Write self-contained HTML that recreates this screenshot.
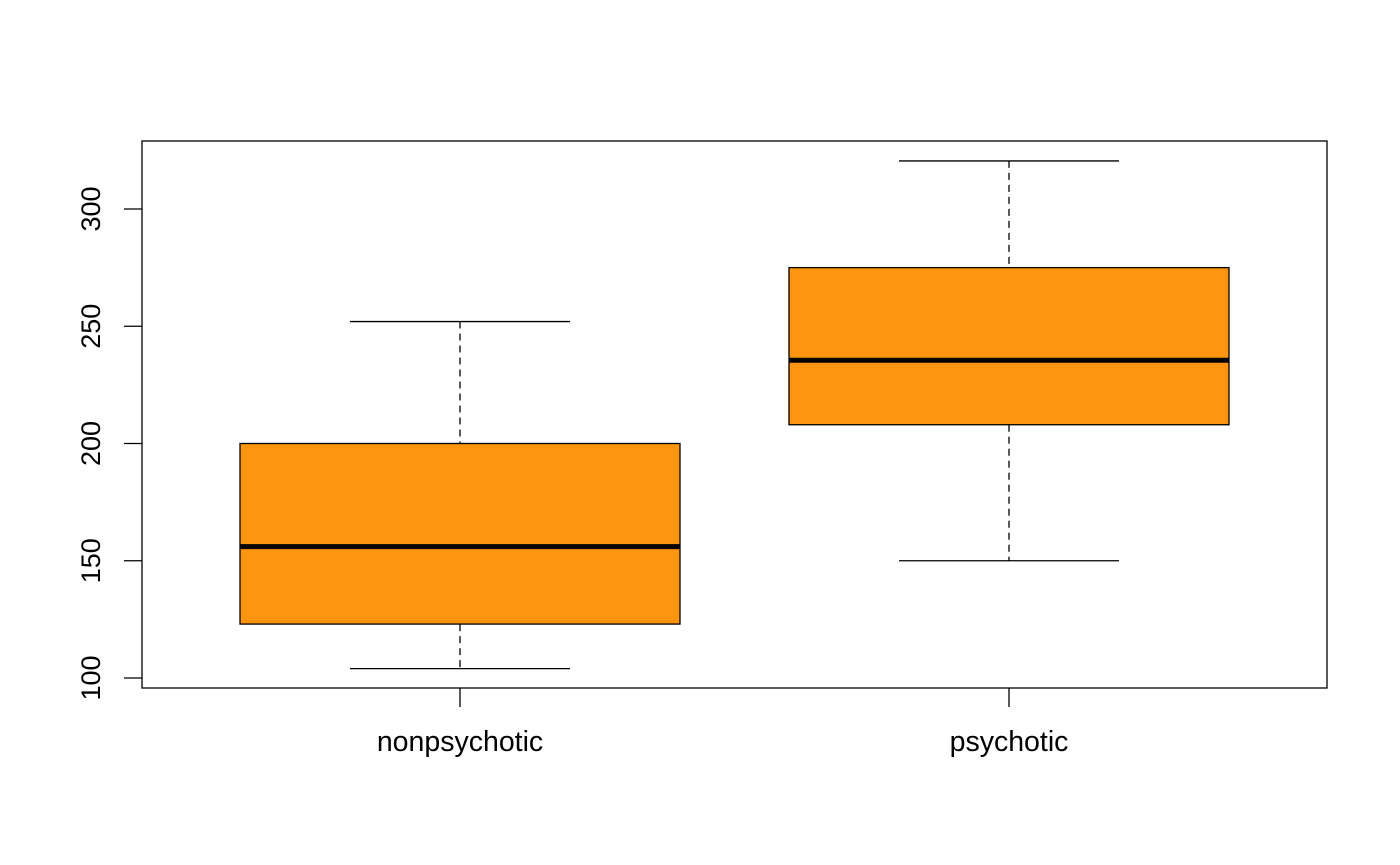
<!DOCTYPE html>
<html><head><meta charset="utf-8"><style>body{margin:0;background:#fff}svg{display:block}text{font-family:"Liberation Sans",Arial,sans-serif;fill:#000}.xl{font-size:28.5px}.yl{font-size:27px}</style></head>
<body>
<svg id="chart" width="1400" height="865" xmlns="http://www.w3.org/2000/svg">
<rect x="142" y="141" width="1185" height="547" fill="none" stroke="#000" stroke-width="1.3"/>
<g id="g"></g>
</svg>
<script>
const categories=["nonpsychotic","psychotic"];
const mins=[104,150];
const q1s=[123,208];
const medians=[156,235.5];
const q3s=[200,275];
const maxs=[252,320.5];
const yTicks=[100,150,200,250,300];
const NS="http://www.w3.org/2000/svg";
const g=document.getElementById('g');
function y(v){return 678-(v-100)*2.345;}
function x(i){return 460+i*549;}
function mk(t,a,p){const e=document.createElementNS(NS,t);for(const k in a)e.setAttribute(k,a[k]);(p||g).appendChild(e);return e;}
yTicks.forEach(v=>{
 const l=mk('line',{x1:124,x2:142,y1:y(v),y2:y(v),stroke:'#000','stroke-width':1.3});
 
 
 const t=mk('text',{class:'yl',x:100,y:y(v),'text-anchor':'middle',transform:`rotate(-90 100 ${y(v)})`});
 
 
 t.textContent=v;
});
categories.forEach((c,i)=>{
 const cx=x(i);
 const grp=mk('g',{});
 
 
 mk('line',{x1:cx,x2:cx,y1:y(maxs[i]),y2:y(q3s[i]),stroke:'#000','stroke-width':1.3,'stroke-dasharray':'7,5'},grp);
 mk('line',{x1:cx,x2:cx,y1:y(q1s[i]),y2:y(mins[i]),stroke:'#000','stroke-width':1.3,'stroke-dasharray':'7,5'},grp);
 mk('line',{x1:cx-110,x2:cx+110,y1:y(maxs[i]),y2:y(maxs[i]),stroke:'#000','stroke-width':1.3},grp);
 mk('line',{x1:cx-110,x2:cx+110,y1:y(mins[i]),y2:y(mins[i]),stroke:'#000','stroke-width':1.3},grp);
 mk('rect',{x:cx-220,y:y(q3s[i]),width:440,height:y(q1s[i])-y(q3s[i]),fill:'#ff940e',stroke:'#000','stroke-width':1.3},grp);
 mk('line',{x1:cx-220,x2:cx+220,y1:y(medians[i]),y2:y(medians[i]),stroke:'#000','stroke-width':5},grp);
 const tk=mk('line',{x1:cx,x2:cx,y1:688,y2:707,stroke:'#000','stroke-width':1.3});
 
 
 const t=mk('text',{class:'xl',x:cx,y:751,'text-anchor':'middle'});
 
 
 t.textContent=c;
});
</script>
</body></html>
